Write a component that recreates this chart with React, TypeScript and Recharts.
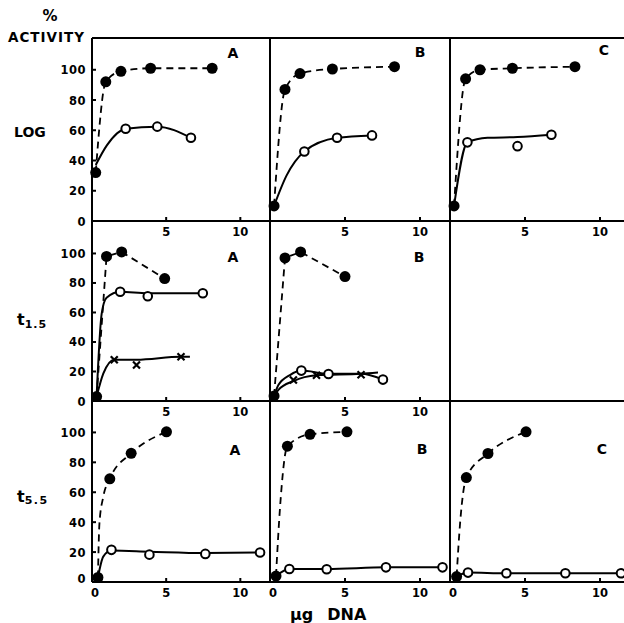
import React from "react";
import { ComposedChart, Line, Scatter, XAxis, YAxis } from "recharts";

type Pt = [number, number];

const xTicks = [0, 5, 10];
const yTicks = [0, 20, 40, 60, 80, 100];

// row 1: LOG
const logAFilled: Pt[] = [[0.25, 32], [0.93, 92], [1.95, 99], [3.95, 101], [8.1, 101]];
const logAOpen: Pt[] = [[2.27, 61], [4.4, 62.4], [6.67, 55]];
const logAOpenLine: Pt[] = [[0.25, 37], [1.0, 50], [2.27, 61], [4.4, 62.4], [6.67, 55]];

const logBFilled: Pt[] = [[0.27, 10], [1.0, 87], [2.0, 97.5], [4.16, 100.5], [8.3, 102]];
const logBOpen: Pt[] = [[2.29, 46], [4.47, 55], [6.8, 56.6]];
const logBOpenLine: Pt[] = [[0.27, 10], [1.1, 30], [2.29, 46], [4.47, 55], [6.8, 56.6]];

const logCFilled: Pt[] = [[0.27, 10], [1.04, 94], [2.0, 100], [4.16, 101], [8.33, 102]];
const logCOpen: Pt[] = [[1.16, 52], [4.5, 49.5], [6.76, 57]];
const logCOpenLine: Pt[] = [[0.27, 10], [1.16, 52], [2.5, 55], [4.5, 55.5], [6.76, 57]];

// row 2: t1.5
const t15AFilled: Pt[] = [[0.31, 3], [0.98, 98], [2.0, 101], [4.9, 83]];
const t15AOpen: Pt[] = [[1.9, 74], [3.76, 71], [7.47, 73]];
const t15AOpenLine: Pt[] = [[0.31, 3], [0.65, 59], [0.98, 70], [1.9, 74], [3.76, 73], [7.47, 73]];
const t15ACross: Pt[] = [[1.5, 28], [3.0, 24.4], [6.0, 30]];
const t15ACrossLine: Pt[] = [[0.31, 3], [0.76, 18.5], [1.5, 28], [3.0, 28], [6.0, 30], [6.6, 30]];

const t15BFilled: Pt[] = [[0.27, 3.4], [1.0, 97], [2.04, 101], [5.0, 84.3]];
const t15BOpen: Pt[] = [[2.09, 20.6], [3.9, 18.3], [7.53, 14.5]];
const t15BOpenLine: Pt[] = [[0.27, 3.4], [0.56, 10.8], [1.33, 17.6], [2.09, 20.6], [3.9, 18.5], [6.07, 18.5], [7.53, 14.5]];
const t15BCross: Pt[] = [[1.56, 14.2], [3.1, 17.4], [6.07, 17.8]];
const t15BCrossLine: Pt[] = [[0.27, 3.4], [0.56, 7.5], [1.56, 13.5], [3.1, 17.4], [6.07, 18.5], [7.2, 19.4]];

// row 3: t5.5
const t55AFilled: Pt[] = [[0.4, 3], [1.2, 69], [2.64, 86], [5.02, 100.4]];
const t55AFilledLine: Pt[] = [[0.4, 3], [0.5, 39], [0.76, 57], [1.2, 69], [2.64, 86], [5.02, 100.4]];
const t55AOpen: Pt[] = [[1.31, 21.5], [3.87, 18.3], [7.64, 18.8], [11.33, 19.7]];
const t55AOpenLine: Pt[] = [[0.4, 3], [0.76, 17], [1.31, 21], [3.87, 20.3], [7.64, 19.4], [11.33, 19.7]];

const t55BFilled: Pt[] = [[0.4, 4], [1.16, 90.8], [2.67, 98.7], [5.13, 100.4]];
const t55BFilledLine: Pt[] = [[0.4, 4], [0.67, 50], [1.16, 90.8], [2.67, 98.7], [5.13, 100.4]];
const t55BOpen: Pt[] = [[1.29, 8.7], [3.78, 8.5], [7.73, 9.8], [11.5, 9.8]];
const t55BOpenLine: Pt[] = [[0.4, 4], [1.29, 8.7], [3.78, 8.7], [7.73, 9.8], [11.5, 9.8]];

const t55CFilled: Pt[] = [[0.44, 3.6], [1.09, 69.8], [2.53, 85.9], [5.07, 100.4]];
const t55CFilledLine: Pt[] = [[0.44, 3.6], [0.67, 39], [1.09, 69.8], [2.53, 85.9], [5.07, 100.4]];
const t55COpen: Pt[] = [[1.2, 6.3], [3.76, 5.8], [7.69, 5.8], [11.4, 5.8]];
const t55COpenLine: Pt[] = [[0.44, 3.6], [1.2, 6.3], [3.76, 5.8], [7.69, 5.8], [11.4, 5.8]];

const rowLabels = ["LOG", "t", "t"];
const rowSubs = ["", "1.5", "5.5"];

type Spec = {
  row: number;
  col: number;
  letter: string;
  filled: Pt[];
  dashed: Pt[];
  open: Pt[];
  solid: Pt[];
  cross?: Pt[];
  crossLine?: Pt[];
};

const panels: Spec[] = [
  { row: 0, col: 0, letter: "A", filled: logAFilled, dashed: logAFilled, open: logAOpen, solid: logAOpenLine },
  { row: 0, col: 1, letter: "B", filled: logBFilled, dashed: logBFilled, open: logBOpen, solid: logBOpenLine },
  { row: 0, col: 2, letter: "C", filled: logCFilled, dashed: logCFilled, open: logCOpen, solid: logCOpenLine },
  { row: 1, col: 0, letter: "A", filled: t15AFilled, dashed: t15AFilled, open: t15AOpen, solid: t15AOpenLine, cross: t15ACross, crossLine: t15ACrossLine },
  { row: 1, col: 1, letter: "B", filled: t15BFilled, dashed: t15BFilled, open: t15BOpen, solid: t15BOpenLine, cross: t15BCross, crossLine: t15BCrossLine },
  { row: 2, col: 0, letter: "A", filled: t55AFilled, dashed: t55AFilledLine, open: t55AOpen, solid: t55AOpenLine },
  { row: 2, col: 1, letter: "B", filled: t55BFilled, dashed: t55BFilledLine, open: t55BOpen, solid: t55BOpenLine },
  { row: 2, col: 2, letter: "C", filled: t55CFilled, dashed: t55CFilledLine, open: t55COpen, solid: t55COpenLine },
];

const ROW_TOP = [38, 221, 401];
const ROW_H = [183, 180, 181];
const Y_MAX = [121, 122, 121];
const COL_LEFT = [92, 270, 450];
const COL_W = [178, 180, 180];

const FONT = "'DejaVu Sans', Arial, sans-serif";
const ink = "#000";

const toObj = (a: Pt[]) => a.map(([x, y]) => ({ x, y }));

const Filled = (p: any) => <circle cx={p.cx} cy={p.cy} r={5.5} fill={ink} />;
const Open = (p: any) => (
  <circle cx={p.cx} cy={p.cy} r={4.3} fill="#fff" stroke={ink} strokeWidth={2} />
);
const Cross = (p: any) => {
  const s = 3.5;
  return (
    <path
      d={`M${p.cx - s},${p.cy - s}L${p.cx + s},${p.cy + s}M${p.cx + s},${p.cy - s}L${p.cx - s},${p.cy + s}`}
      stroke={ink}
      strokeWidth={2.2}
    />
  );
};

// axes are 1px thick boxes (recharts skips 0-size axes), so the plot sits 1px inside the margins
function Panel({ spec }: { spec: Spec }) {
  const isA = spec.col === 0;
  const isBottom = spec.row === 2;
  const m = { top: 8, right: 8, bottom: 26, left: isA ? 42 : 8 };
  const w = COL_W[spec.col] + m.left + m.right + 2;
  const h = ROW_H[spec.row] + m.top + m.bottom + 2;
  // the t1.5 dashed curves are drawn as straight segments
  const dashType = spec.row === 1 ? "linear" : "monotone";

  const xTick = (props: any) => {
    const { x, y, payload } = props;
    const v = payload.value;
    return (
      <g>
        {v !== 0 && <line x1={x} x2={x} y1={y} y2={y - 4} stroke={ink} strokeWidth={2} />}
        {(v !== 0 || isBottom) && (
          <text x={v === 0 ? x + 3 : x} y={y + 15} textAnchor="middle" fontFamily={FONT} fontWeight="bold" fontSize={11.5} fill={ink}>
            {v}
          </text>
        )}
      </g>
    );
  };

  const yTick = (props: any) => {
    const { x, y, payload } = props;
    const v = payload.value;
    return (
      <g>
        {v !== 0 && <line x1={x} x2={x + 4} y1={y} y2={y} stroke={ink} strokeWidth={2} />}
        <text x={x - 6} y={y + 4.5 - (isBottom && v === 0 ? 4 : 0)} textAnchor="end" fontFamily={FONT} fontWeight="bold" fontSize={11.5} letterSpacing={0.5} fill={ink}>
          {v}
        </text>
      </g>
    );
  };

  return (
    <div style={{ position: "absolute", left: COL_LEFT[spec.col] - m.left - 1, top: ROW_TOP[spec.row] - m.top - 1 }}>
      <ComposedChart width={w} height={h} margin={m}>
        <XAxis
          type="number"
          dataKey="x"
          domain={[0, 12]}
          ticks={xTicks}
          interval={0}
          height={1}
          tickSize={0}
          tickMargin={0}
          tickLine={false}
          axisLine={{ stroke: ink, strokeWidth: 2 }}
          tick={xTick}
        />
        <XAxis xAxisId="top" orientation="top" type="number" domain={[0, 12]} height={1} tick={false} tickLine={false} axisLine={{ stroke: ink, strokeWidth: 2 }} />
        <YAxis
          type="number"
          dataKey="y"
          domain={[0, Y_MAX[spec.row]]}
          ticks={yTicks}
          interval={0}
          width={1}
          tickSize={0}
          tickMargin={0}
          tickLine={false}
          axisLine={{ stroke: ink, strokeWidth: 2 }}
          tick={isA ? yTick : false}
        />
        <YAxis yAxisId="right" orientation="right" type="number" domain={[0, Y_MAX[spec.row]]} width={1} tick={false} tickLine={false} axisLine={{ stroke: ink, strokeWidth: 2 }} />

        <Line data={toObj(spec.dashed)} dataKey="y" type={dashType} stroke={ink} strokeWidth={1.8} strokeDasharray="7 5" dot={false} isAnimationActive={false} />
        <Line data={toObj(spec.solid)} dataKey="y" type="monotone" stroke={ink} strokeWidth={2} dot={false} isAnimationActive={false} />
        {spec.crossLine && (
          <Line data={toObj(spec.crossLine)} dataKey="y" type="monotone" stroke={ink} strokeWidth={2} dot={false} isAnimationActive={false} />
        )}
        {spec.cross && <Scatter data={toObj(spec.cross)} dataKey="y" shape={Cross} isAnimationActive={false} />}
        <Scatter data={toObj(spec.open)} dataKey="y" shape={Open} isAnimationActive={false} />
        <Scatter data={toObj(spec.filled)} dataKey="y" shape={Filled} isAnimationActive={false} />
      </ComposedChart>
    </div>
  );
}

const letterPos: Record<string, [number, number]> = {
  "0-0": [233, 53], "0-1": [420, 52], "0-2": [604, 50],
  "1-0": [233, 257], "1-1": [419, 257],
  "2-0": [235, 450], "2-1": [422, 449], "2-2": [602, 449],
};

export default function App() {
  return (
    <div style={{ position: "absolute", left: 0, top: 0, width: 624, height: 623, overflow: "hidden", background: "#fff" }}>
      {panels.map((p) => (
        <Panel key={`${p.row}-${p.col}`} spec={p} />
      ))}
      <svg width={624} height={623} style={{ position: "absolute", left: 0, top: 0, pointerEvents: "none" }} fontFamily={FONT} fontWeight="bold" fill={ink}>
        <text x={50} y={21} fontSize={15} textAnchor="middle">%</text>
        <text x={8} y={42} fontSize={13.5} letterSpacing={1}>ACTIVITY</text>
        <text x={14} y={137} fontSize={14}>{rowLabels[0]}</text>
        <text x={17} y={325} fontSize={16}>
          {rowLabels[1]}
          <tspan fontSize={11} dy={3} letterSpacing={1}>{rowSubs[1]}</tspan>
        </text>
        <text x={17} y={502} fontSize={16}>
          {rowLabels[2]}
          <tspan fontSize={11} dy={2} letterSpacing={1.5}>{rowSubs[2]}</tspan>
        </text>
        {panels.map((p) => {
          const [lx, ly] = letterPos[`${p.row}-${p.col}`];
          return (
            <text key={`l${p.row}-${p.col}`} x={lx} y={ly + 5} fontSize={14} textAnchor="middle">
              {p.letter}
            </text>
          );
        })}
        <text x={290} y={620} fontSize={16}>
          μg
          <tspan dx={14}>DNA</tspan>
        </text>
      </svg>
    </div>
  );
}
